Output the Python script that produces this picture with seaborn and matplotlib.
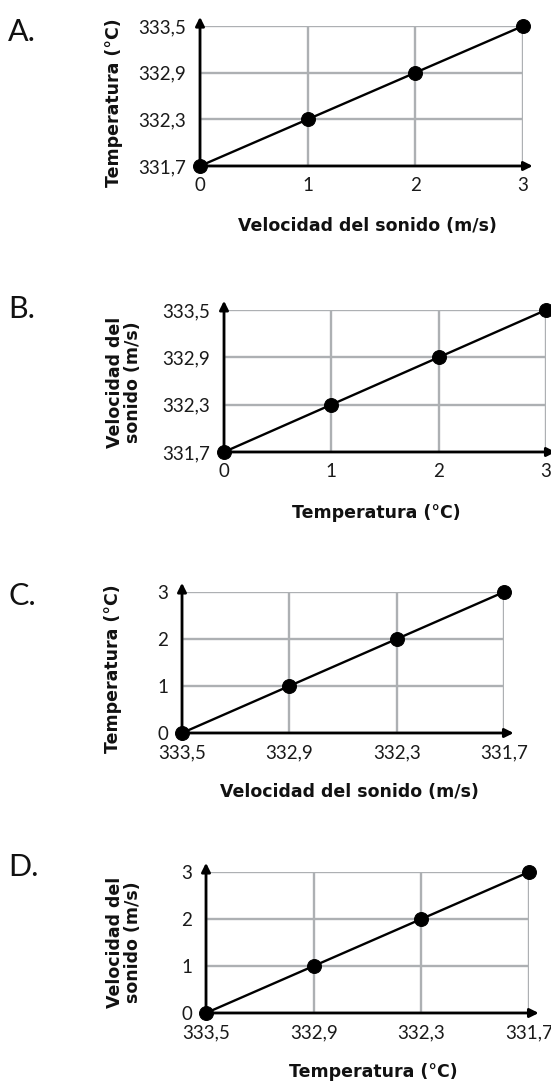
import matplotlib
matplotlib.use("Agg")
import matplotlib.pyplot as plt
import seaborn as sns
import pandas as pd

# ---- data ----
indices = [0, 1, 2, 3]
velocidades = [331.7, 332.3, 332.9, 333.5]
velocidades_desc = [333.5, 332.9, 332.3, 331.7]
panel_letters = ["A.", "B.", "C.", "D."]
xlabels = ["Velocidad del sonido (m/s)", "Temperatura (°C)",
           "Velocidad del sonido (m/s)", "Temperatura (°C)"]
ylabels = ["Temperatura (°C)", "Velocidad del\nsonido (m/s)",
           "Temperatura (°C)", "Velocidad del\nsonido (m/s)"]

sns.set_style("white")
plt.rcParams["font.family"] = ["Lato", "DejaVu Sans"]

W, H = 551, 1082
fig = plt.figure(figsize=(W / 100, H / 100), dpi=100)

# pixel rectangles (left, right, top, bottom)
rects = [(200, 523, 26, 166), (224, 546, 310, 452),
         (182, 504, 592, 733), (206, 529, 872, 1013)]
# label centers in px: (ylabel_x, ylabel_y, xlabel_x, xlabel_y, letter_y)
lab_pos = [(114, 103, 367, 226, 32), (124, 382, 376, 513, 309),
           (113, 669, 349, 792, 596), (124, 942, 373, 1072, 867)]

GRID = "#adb0b3"

def fmt(v):
    return f"{v:.1f}".replace(".", ",")

for i in range(4):
    l, r, t, b = rects[i]
    ax = fig.add_axes([l / W, 1 - b / H, (r - l) / W, (b - t) / H])
    if i < 2:
        df = pd.DataFrame({"x": indices, "y": velocidades})
        xt, yt = indices, velocidades
        xl, yl = (0, 3), (331.7, 333.5)
        xtl = [str(v) for v in indices]
        ytl = [fmt(v) for v in velocidades]
    else:
        df = pd.DataFrame({"x": velocidades_desc, "y": indices})
        xt, yt = velocidades_desc, indices
        xl, yl = (333.5, 331.7), (0, 3)
        xtl = [fmt(v) for v in velocidades_desc]
        ytl = [str(v) for v in indices]

    sns.lineplot(data=df, x="x", y="y", ax=ax, color="black", lw=1.7,
                 marker="o", markersize=10, markeredgecolor="black",
                 markerfacecolor="black", sort=False)
    for ln in ax.lines:
        ln.set_clip_on(False)
        ln.set_zorder(5)

    ax.set_xlim(*xl)
    ax.set_ylim(*yl)
    ax.set_xticks(xt)
    ax.set_yticks(yt)
    ax.set_xticklabels(xtl)
    ax.set_yticklabels(ytl)
    ax.tick_params(length=0, labelsize=13.5, colors="#1a1a1a")
    ax.tick_params(axis="y", pad=10)
    ax.tick_params(axis="x", pad=8)
    ax.grid(True, color=GRID, lw=1.7)
    ax.set_axisbelow(True)
    for s in ax.spines.values():
        s.set_visible(False)

    # axis arrows
    ap = dict(arrowstyle="-|>", lw=2.0, color="black", mutation_scale=13,
              shrinkA=0, shrinkB=0)
    ax.annotate("", xy=(1.03, 0), xytext=(0, 0), xycoords="axes fraction",
                textcoords="axes fraction", arrowprops=ap,
                annotation_clip=False, zorder=4)
    ax.annotate("", xy=(0, 1.065), xytext=(0, 0), xycoords="axes fraction",
                textcoords="axes fraction", arrowprops=ap,
                annotation_clip=False, zorder=4)

    ylx, yly, xlx, xly, ly = lab_pos[i]
    ax.set_xlabel(xlabels[i], family="DejaVu Sans", fontweight="bold",
                  fontsize=12.5, color="#111111")
    ax.set_ylabel(ylabels[i], family="DejaVu Sans", fontweight="bold",
                  fontsize=12.5, color="#111111", linespacing=0.95)
    ax.xaxis.label.set_va("center")
    ax.yaxis.label.set_va("center")
    ax.xaxis.set_label_coords((xlx - l) / (r - l), (b - xly) / (b - t))
    ax.yaxis.set_label_coords((ylx - l) / (r - l), (b - yly) / (b - t))

    fig.text(8 / W, 1 - ly / H, panel_letters[i], fontsize=22,
             family="Lato", color="#111111", va="center", ha="left")

fig.savefig("out.png", dpi=100)
